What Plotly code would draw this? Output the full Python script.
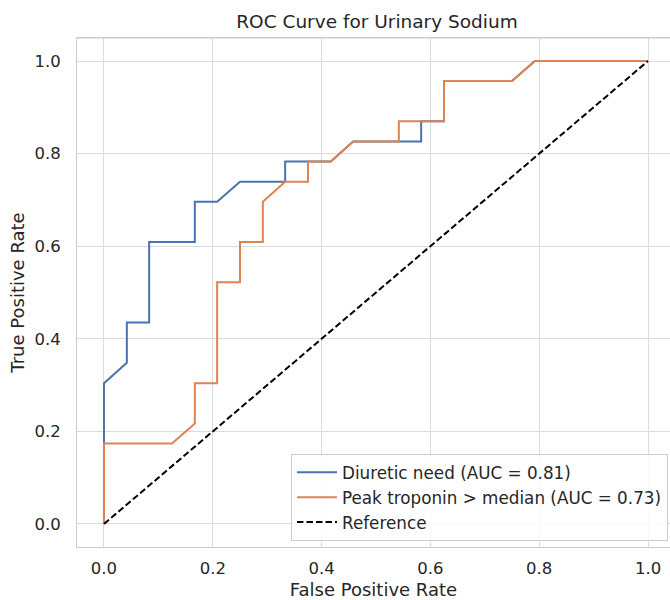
import plotly.graph_objects as go

# ROC data
diuretic_fpr = [0, 0, 0.042, 0.042, 0.083, 0.083, 0.167, 0.167, 0.208, 0.25, 0.333, 0.333,
                0.417, 0.458, 0.583, 0.583, 0.625, 0.625, 0.75, 0.792, 1.0]
diuretic_tpr = [0, 0.304, 0.348, 0.435, 0.435, 0.609, 0.609, 0.696, 0.696, 0.739, 0.739, 0.783,
                0.783, 0.826, 0.826, 0.870, 0.870, 0.957, 0.957, 1.0, 1.0]

troponin_fpr = [0, 0, 0.125, 0.167, 0.167, 0.208, 0.208, 0.25, 0.25, 0.292, 0.292, 0.333,
                0.375, 0.375, 0.417, 0.458, 0.542, 0.542, 0.625, 0.625, 0.75, 0.792, 1.0]
troponin_tpr = [0, 0.174, 0.174, 0.217, 0.304, 0.304, 0.522, 0.522, 0.609, 0.609, 0.696, 0.739,
                0.739, 0.783, 0.783, 0.826, 0.826, 0.870, 0.870, 0.957, 0.957, 1.0, 1.0]

ref_x = [0, 1]
ref_y = [0, 1]

names = ["Diuretic need (AUC = 0.81)", "Peak troponin > median (AUC = 0.73)", "Reference"]
tick_vals = [0.0, 0.2, 0.4, 0.6, 0.8, 1.0]

FONT = "DejaVu Sans"
TXT = "#262626"
GRID = "#dcdcdc"

fig = go.Figure()
fig.add_trace(go.Scatter(x=diuretic_fpr, y=diuretic_tpr, mode="lines", name=names[0],
                         line=dict(color="#4c72b0", width=2)))
fig.add_trace(go.Scatter(x=troponin_fpr, y=troponin_tpr, mode="lines", name=names[1],
                         line=dict(color="#dd8452", width=2)))
fig.add_trace(go.Scatter(x=ref_x, y=ref_y, mode="lines", name=names[2],
                         line=dict(color="black", width=2, dash="6.5px,3px")))

fig.update_layout(
    width=670, height=600,
    margin=dict(l=77, r=0, t=38, b=53, autoexpand=False),
    paper_bgcolor="white", plot_bgcolor="white",
    font=dict(family=FONT, color=TXT, size=16),
    title=dict(text="ROC Curve for Urinary Sodium", x=377 / 670, xref="container", xanchor="center",
               y=1 - 22 / 600, yref="container", yanchor="middle",
               font=dict(size=18.5, color=TXT, family=FONT)),
    legend=dict(x=0.9966, y=0.012, xanchor="right", yanchor="bottom",
                bgcolor="rgba(255,255,255,0.85)", bordercolor="#cccccc", borderwidth=1,
                font=dict(size=16.8, color=TXT, family=FONT), tracegroupgap=0,
                itemwidth=40),
    showlegend=True,
)
fig.update_xaxes(range=[-0.0496, 1.0404], tickvals=tick_vals, tickformat=".1f",
                 showgrid=True, gridcolor=GRID, gridwidth=1, zeroline=False,
                 showline=True, linecolor="#cccccc", linewidth=1, mirror=True,
                 ticks="", ticklabelstandoff=6, automargin=False,
                 title=dict(text="False Positive Rate", font=dict(size=18), standoff=7),
                 tickfont=dict(size=16.5))
fig.update_yaxes(range=[-0.0497, 1.0497], tickvals=tick_vals, tickformat=".1f",
                 showgrid=True, gridcolor=GRID, gridwidth=1, zeroline=False,
                 showline=True, linecolor="#cccccc", linewidth=1, mirror=False,
                 ticks="", ticklabelstandoff=12, automargin=False,
                 title=dict(text="True Positive Rate", font=dict(size=18), standoff=5),
                 tickfont=dict(size=16.5))
fig.add_shape(type="line", xref="paper", yref="paper", x0=0, x1=1, y0=1, y1=1,
              line=dict(color="#cccccc", width=1))

fig.write_html("out.html", config={"displayModeBar": False},
               post_script="document.body.style.margin='0';")
